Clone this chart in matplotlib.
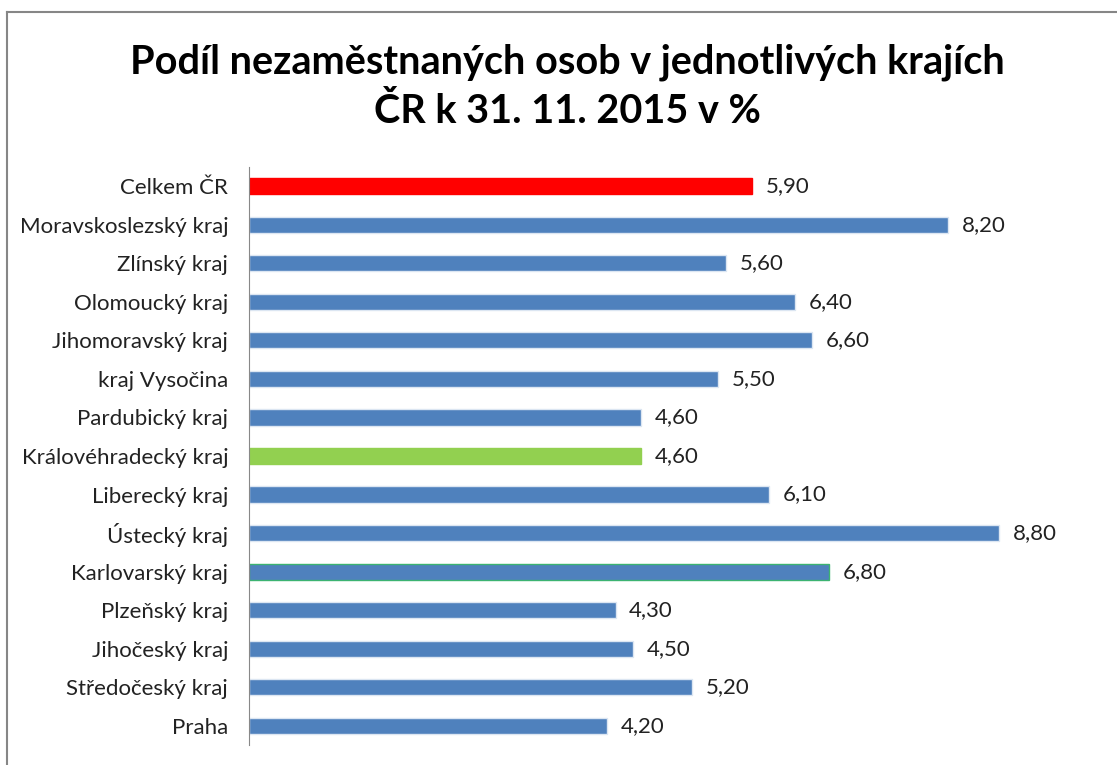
import matplotlib.pyplot as plt
from matplotlib.lines import Line2D

regions = ['Celkem ČR', 'Moravskoslezský kraj', 'Zlínský kraj', 'Olomoucký kraj',
           'Jihomoravský kraj', 'kraj Vysočina', 'Pardubický kraj',
           'Královéhradecký kraj', 'Liberecký kraj', 'Ústecký kraj',
           'Karlovarský kraj', 'Plzeňský kraj', 'Jihočeský kraj',
           'Středočeský kraj', 'Praha']
values = [5.90, 8.20, 5.60, 6.40, 6.60, 5.50, 4.60, 4.60, 6.10, 8.80,
          6.80, 4.30, 4.50, 5.20, 4.20]

blue = '#4F81BD'
colors = [blue] * len(regions)
colors[0] = '#FF0000'
colors[7] = '#92D050'
edges = ['#DCE6F2'] * len(regions)
edges[0] = '#FF0000'
edges[7] = '#92D050'
edges[10] = '#3CB371'

fig = plt.figure(figsize=(11.17, 7.65), dpi=100)
W, H = 1117, 765
ax = fig.add_axes([249 / W, 20 / H, 850 / W, (745 - 167) / H])

# top to bottom order
y = list(range(len(regions)))[::-1]
ax.barh(y, values, height=0.42, color=colors, edgecolor=edges, linewidth=1)
ax.set_xlim(0, 9.97)
ax.set_ylim(-0.5, len(regions) - 0.5)
ax.set_yticks(y)
ax.set_yticklabels(regions, fontsize=16, family='Lato', color='#222222')
ax.tick_params(axis='y', length=0, pad=15)
ax.set_xticks([])
for s in ['top', 'right', 'bottom']:
    ax.spines[s].set_visible(False)
ax.spines['left'].set_color('#888888')

for yi, v in zip(y, values):
    ax.text(v + 0.16, yi, f'{v:.2f}'.replace('.', ','), va='center', ha='left',
            fontsize=16, family='Lato', color='#222222')

fig.text(567 / W, 1 - 87 / H, 'Podíl nezaměstnaných osob v jednotlivých krajích\nČR k 31. 11. 2015 v %',
         ha='center', va='center', fontsize=28.5, fontweight='bold', family='Lato',
         linespacing=1.4)

# chart border
fig.add_artist(Line2D([7 / W, 7 / W], [0, 1 - 12 / H], color='#868686', lw=1.5))
fig.add_artist(Line2D([7 / W, 1], [1 - 12 / H, 1 - 12 / H], color='#868686', lw=1.5))

fig.savefig('out.png', dpi=100, facecolor='white')
